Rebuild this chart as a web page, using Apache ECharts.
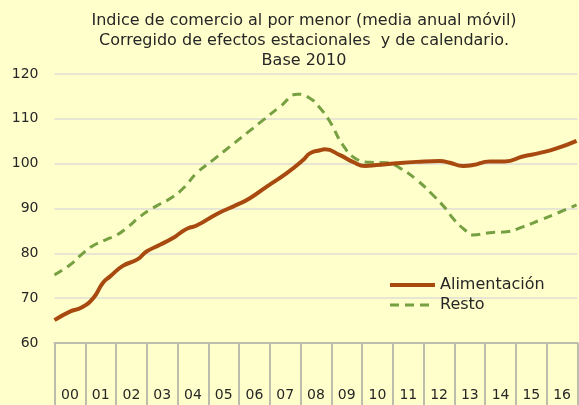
<!DOCTYPE html>
<html>
<head>
<meta charset="utf-8">
<script src="https://cdn.jsdelivr.net/npm/echarts@6/dist/echarts.min.js"></script>
<style>
  html, body { margin: 0; padding: 0; background: #ffffcc; }
  #chart { width: 579px; height: 405px; }
</style>
</head>
<body>
<div id="chart"></div>
<script>
// años (etiquetas del eje)
var years = ['00', '01', '02', '03', '04', '05', '06', '07', '08', '09', '10', '11', '12', '13', '14', '15', '16'];

// posición en años desde enero 2000, y valor del índice
var alimX = [0.0, 0.5, 0.88, 1.26, 1.57, 1.8, 2.22, 2.71, 2.99, 3.43, 3.85, 4.08, 4.34, 4.62, 5.31, 5.92, 6.35, 6.9, 7.55, 8.08, 8.3, 8.63, 8.79, 9.28, 9.7, 10.09, 10.47, 11.12, 11.77, 12.53, 12.85, 13.28, 13.6, 14.15, 14.64, 15.22, 15.78, 16.32, 16.97];
var alimY = [65.1, 67.0, 67.9, 70.0, 73.4, 74.8, 77.2, 78.7, 80.4, 81.9, 83.4, 84.5, 85.6, 86.2, 88.9, 90.8, 92.3, 94.9, 97.9, 100.8, 102.3, 103.0, 103.2, 101.9, 100.4, 99.5, 99.7, 100.1, 100.4, 100.6, 100.2, 99.5, 99.7, 100.5, 100.5, 101.6, 102.4, 103.4, 105.1];

var restoX = [0.0, 0.5, 0.92, 1.25, 1.7, 2.03, 2.39, 2.78, 3.1, 3.43, 3.85, 4.24, 4.62, 5.15, 5.7, 6.25, 6.78, 7.33, 7.91, 8.3, 8.63, 8.95, 9.37, 9.82, 10.25, 10.8, 11.23, 11.77, 12.3, 12.75, 12.95, 13.34, 13.6, 14.15, 14.7, 15.22, 15.78, 16.32, 16.97];
var restoY = [75.2, 77.4, 80.0, 81.7, 83.1, 84.1, 85.9, 88.2, 89.7, 91.0, 92.6, 94.9, 97.9, 100.8, 103.8, 106.8, 109.7, 112.7, 115.5, 114.6, 112.4, 109.4, 104.2, 101.0, 100.3, 100.2, 99.0, 96.4, 93.0, 89.7, 87.8, 85.2, 84.1, 84.6, 84.8, 85.9, 87.4, 88.9, 90.8];

var yTicks = { min: 60, max: 120, step: 10 };

function pairs(xs, ys) {
    return xs.map(function (x, i) { return [x, ys[i]]; });
}

var chart = echarts.init(document.getElementById('chart'), null, { renderer: 'canvas' });

var font = '"DejaVu Sans", sans-serif';

chart.setOption({
    backgroundColor: '#ffffcc',
    animation: false,
    title: {
        text: 'Indice de comercio al por menor (media anual móvil)\nCorregido de efectos estacionales  y de calendario.\nBase 2010',
        left: 299,
        top: 6,
        textAlign: 'center',
        textStyle: {
            fontFamily: font,
            fontSize: 16,
            fontWeight: 'normal',
            color: '#262626',
            lineHeight: 20
        }
    },
    legend: {
        orient: 'vertical',
        left: 383,
        top: 272,
        itemWidth: 45,
        itemHeight: 10,
        itemGap: 4,
        itemStyle: { opacity: 0 },
        textStyle: { fontFamily: font, fontSize: 16, color: '#262626' },
        data: [
            { name: 'Alimentación', lineStyle: { width: 4 } },
            { name: 'Resto', lineStyle: { width: 3 } }
        ]
    },
    grid: {
        left: 54.5,
        right: 1.5,
        top: 74,
        bottom: 62
    },
    xAxis: [{
        type: 'category',
        data: years,
        boundaryGap: true,
        axisLine: { show: true, lineStyle: { color: '#bdbdae', width: 2 } },
        axisTick: { show: true, length: 70, lineStyle: { color: '#bdbdae', width: 2 } },
        axisLabel: { fontFamily: font, fontSize: 14, color: '#262626', margin: 45 },
        splitLine: { show: false }
    }, {
        type: 'value',
        min: 0,
        max: 17,
        show: false
    }],
    yAxis: {
        type: 'value',
        min: yTicks.min,
        max: yTicks.max,
        interval: yTicks.step,
        axisLine: { show: false },
        axisTick: { show: false },
        axisLabel: { fontFamily: font, fontSize: 14, color: '#262626', margin: 16 },
        splitLine: { lineStyle: { color: '#e6e6d2', width: 2 } }
    },
    series: [{
        name: 'Alimentación',
        type: 'line',
        xAxisIndex: 1,
        data: pairs(alimX, alimY),
        smooth: true,
        symbol: 'none',
        itemStyle: { color: '#a84a10' },
        lineStyle: { color: '#a84a10', width: 4 },
        z: 3
    }, {
        name: 'Resto',
        type: 'line',
        xAxisIndex: 1,
        data: pairs(restoX, restoY),
        smooth: true,
        symbol: 'none',
        itemStyle: { color: '#76a041' },
        lineStyle: { color: '#76a041', width: 3, type: [9, 6] },
        z: 2
    }]
});
</script>
</body>
</html>
